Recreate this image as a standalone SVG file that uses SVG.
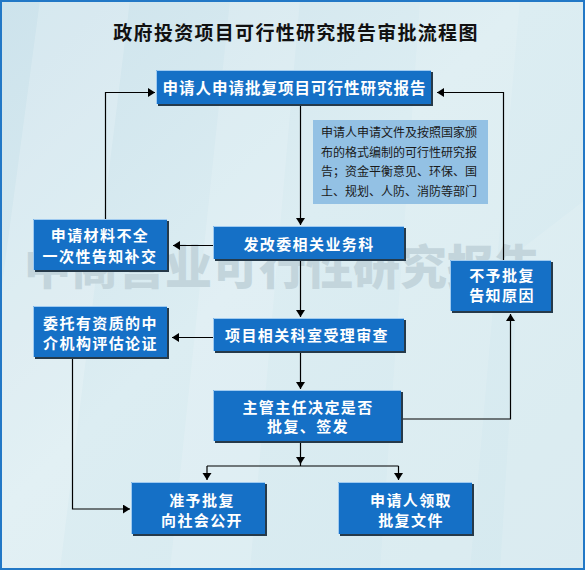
<svg xmlns="http://www.w3.org/2000/svg" width="585" height="570" viewBox="0 0 585 570">
<defs>
<linearGradient id="bg" x1="0" y1="0" x2="1" y2="1">
<stop offset="0" stop-color="#cde3ec"/>
<stop offset="0.45" stop-color="#dcedf2"/>
<stop offset="1" stop-color="#d5e9ef"/>
</linearGradient>
<marker id="ah" markerUnits="userSpaceOnUse" markerWidth="8" markerHeight="10" refX="7" refY="4.5" orient="auto">
<path d="M0,0 L7,4.5 L0,9 z" fill="#000"/>
</marker>
<style>
.sh{fill:#263a4a}
.bx{fill:#1570c6}
.hl{fill:none;stroke:#9fcaf0;stroke-width:1}
.bt{fill:#fff;font-family:"Noto Sans CJK SC","Noto Sans",sans-serif;font-weight:bold;font-size:15px;letter-spacing:1.4px;text-anchor:middle}
.ln{fill:none;stroke:#000;stroke-width:1.2}
.nt{fill:#1a1a1a;font-family:"Noto Sans CJK SC","Noto Sans",sans-serif;font-size:12px}
</style>
</defs>
<rect x="0" y="0" width="585" height="570" fill="url(#bg)"/>
<polygon points="40,0 130,0 60,570 0,570 0,300" fill="#fff" opacity="0.18"/>
<polygon points="230,0 300,0 250,570 170,570" fill="#fff" opacity="0.15"/>
<polygon points="420,0 520,0 470,570 380,570" fill="#fff" opacity="0.12"/>
<polygon points="520,250 585,200 585,570 500,570" fill="#fff" opacity="0.12"/>
<rect x="1" y="1" width="583" height="568" fill="none" stroke="#2278c6" stroke-width="2"/>
<text x="24" y="284" font-family="Noto Sans CJK SC,sans-serif" font-weight="900" font-size="47" fill="#c3d5dc">中商营业可行性研究报告</text>
<text x="296" y="40" font-family="Noto Sans CJK SC,Noto Sans,sans-serif" font-weight="bold" font-size="19" letter-spacing="1.3" text-anchor="middle" fill="#111">政府投资项目可行性研究报告审批流程图</text>

<g id="note">
<rect x="313" y="120" width="175" height="84" fill="#93c1e4"/>
<text class="nt" x="321" y="137">申请人申请文件及按照国家颁</text>
<text class="nt" x="321" y="157">布的格式编制的可行性研究报</text>
<text class="nt" x="321" y="176">告；资金平衡意见、环保、国</text>
<text class="nt" x="321" y="196">土、规划、人防、消防等部门</text>
</g>

<g id="connectors">
<path class="ln" d="M105.5 219 V92.5 H155" marker-end="url(#ah)"/>
<path class="ln" d="M503.5 260 V92.5 H437" marker-end="url(#ah)"/>
<path class="ln" d="M300.5 105 V225" marker-end="url(#ah)"/>
<path class="ln" d="M213 245.5 H173" marker-end="url(#ah)"/>
<path class="ln" d="M300.5 261 V317" marker-end="url(#ah)"/>
<path class="ln" d="M213 337.5 H172" marker-end="url(#ah)"/>
<path class="ln" d="M300.5 353 V389" marker-end="url(#ah)"/>
<path class="ln" d="M403 419 H510.5 V314" marker-end="url(#ah)"/>
<path class="ln" d="M72.5 359 V509 H130" marker-end="url(#ah)"/>
<path class="ln" d="M300.5 443 V464" marker-end="url(#ah)"/>
<path class="ln" d="M300.5 462 V466 M207 466 H398.5"/>
<path class="ln" d="M207 466 V480" marker-end="url(#ah)"/>
<path class="ln" d="M398.5 466 V480" marker-end="url(#ah)"/>
</g>

<g id="n1">
<rect class="sh" x="158" y="72" width="275" height="34"/>
<rect class="bx" x="156" y="70" width="275" height="34"/>
<path class="hl" d="M156.5 104 V70.5 H431"/>
<text class="bt" x="294.5" y="93.5" style="font-size:15.5px;letter-spacing:1px">申请人申请批复项目可行性研究报告</text>
</g>
<g id="n2">
<rect class="sh" x="215" y="228" width="191" height="33"/>
<rect class="bx" x="213" y="226" width="191" height="33"/>
<path class="hl" d="M213.5 259 V226.5 H404"/>
<text class="bt" x="309" y="249.5">发改委相关业务科</text>
</g>
<g id="n3">
<rect class="sh" x="35" y="221" width="134" height="51"/>
<rect class="bx" x="33" y="219" width="134" height="51"/>
<path class="hl" d="M33.5 270 V219.5 H167"/>
<text class="bt" x="100" y="240.5">申请材料不全</text>
<text class="bt" x="100" y="262">一次性告知补交</text>
</g>
<g id="n4">
<rect class="sh" x="452" y="262" width="101" height="51"/>
<rect class="bx" x="450" y="260" width="101" height="51"/>
<path class="hl" d="M450.5 311 V260.5 H551"/>
<text class="bt" x="502" y="281">不予批复</text>
<text class="bt" x="502" y="301">告知原因</text>
</g>
<g id="n5">
<rect class="sh" x="215" y="320" width="191" height="33"/>
<rect class="bx" x="213" y="318" width="191" height="33"/>
<path class="hl" d="M213.5 351 V318.5 H404"/>
<text class="bt" x="307" y="341">项目相关科室受理审查</text>
</g>
<g id="n6">
<rect class="sh" x="35" y="308" width="134" height="51"/>
<rect class="bx" x="33" y="306" width="134" height="51"/>
<path class="hl" d="M33.5 357 V306.5 H167"/>
<text class="bt" x="100.5" y="329">委托有资质的中</text>
<text class="bt" x="100.5" y="349">介机构评估论证</text>
</g>
<g id="n7">
<rect class="sh" x="215" y="392" width="188" height="51"/>
<rect class="bx" x="213" y="390" width="188" height="51"/>
<path class="hl" d="M213.5 441 V390.5 H401"/>
<text class="bt" x="308" y="413">主管主任决定是否</text>
<text class="bt" x="308" y="432">批复、签发</text>
</g>
<g id="n8">
<rect class="sh" x="133" y="484" width="134" height="52"/>
<rect class="bx" x="131" y="482" width="134" height="52"/>
<path class="hl" d="M131.5 534 V482.5 H265"/>
<text class="bt" x="202" y="505.5">准予批复</text>
<text class="bt" x="202" y="525.5">向社会公开</text>
</g>
<g id="n9">
<rect class="sh" x="340" y="484" width="134" height="52"/>
<rect class="bx" x="338" y="482" width="134" height="52"/>
<path class="hl" d="M338.5 534 V482.5 H472"/>
<text class="bt" x="411" y="505.5">申请人领取</text>
<text class="bt" x="411" y="525.5">批复文件</text>
</g>
</svg>
